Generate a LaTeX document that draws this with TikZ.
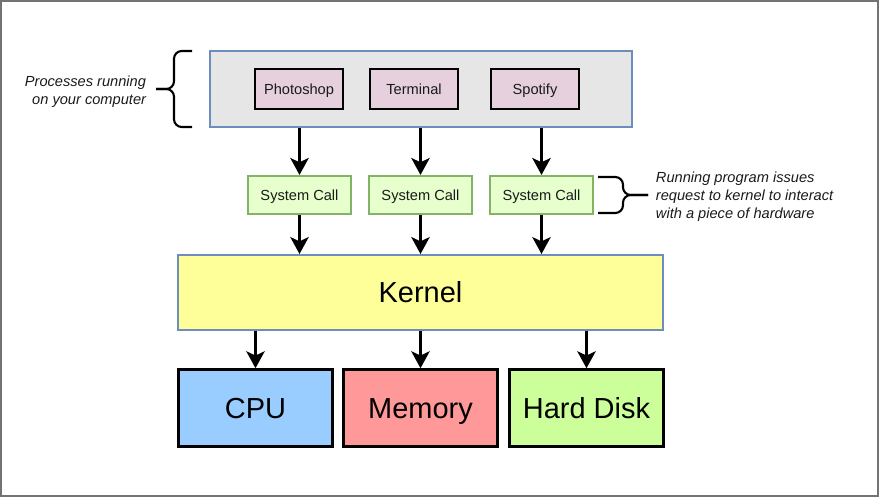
\documentclass[tikz,border=0pt]{standalone}
\usepackage{fontspec}
\setmainfont{Liberation Sans}
\usepackage{tikz}
\definecolor{pgray}{HTML}{E6E6E6}
\definecolor{pblue}{HTML}{6C8EBF}
\definecolor{ppink}{HTML}{E6D0DE}
\definecolor{sgreen}{HTML}{E6FFCC}
\definecolor{sgreenb}{HTML}{82B366}
\definecolor{kyellow}{HTML}{FFFF99}
\definecolor{hwblue}{HTML}{99CCFF}
\definecolor{hwred}{HTML}{FF9999}
\definecolor{hwgreen}{HTML}{CCFF99}
\definecolor{txt}{HTML}{1A1A1A}
\usetikzlibrary{arrows.meta}

\begin{document}
\begin{tikzpicture}[x=0.025cm, y=-0.025cm]
    \tikzset{
      small/.style={font=\fontsize{10.4}{12.8}\selectfont, text=txt,
        text height=7.45pt, text depth=0pt},
      big/.style={font=\fontsize{20.6}{24}\selectfont,
        text height=14.75pt, text depth=0pt},
      note/.style={font=\fontsize{10.4}{12.8}\selectfont\itshape, text=txt},
      proc/.style={small, draw, fill=ppink, line width=1.8pt,
        minimum width=2.2cm, minimum height=1cm},
      sysc/.style={small, draw=sgreenb, fill=sgreen, line width=1.5pt,
        minimum width=2.575cm, minimum height=0.95cm},
      hw/.style={big, draw, line width=1.8pt,
        minimum width=3.85cm, minimum height=1.925cm},
      arr/.style={draw=black, line width=2.1pt,
        -{Stealth[length=12pt, width=13pt, inset=3pt]}},
      brace/.style={line width=1.5pt, rounded corners=5.5pt}}
    \useasboundingbox (0, 0) rectangle (880, 498);
    \draw[black!55, line width=1pt] (1, 1) rectangle (878, 496);
    % processes
    \node at (421, 89) [draw=pblue, fill=pgray, line width=1.4pt,
      minimum width=10.55cm, minimum height=1.9cm] (procs) {};
    \node at (299, 89) [proc] (ps) {Photoshop};
    \node at (414, 89) [proc] (term) {Terminal};
    \node at (535, 89) [proc] (spot) {Spotify};
    % system calls
    \node at (299.5, 195) [sysc] (sc1) {System Call};
    \node at (420.5, 195) [sysc] (sc2) {System Call};
    \node at (541.5, 195) [sysc] (sc3) {System Call};
    % kernel
    \node at (420.5, 292.5) [big, draw=pblue, fill=kyellow, line width=1.4pt,
      minimum width=12.125cm, minimum height=1.875cm] (kern) {Kernel};
    % hardware
    \node at (255.5, 408) [hw, fill=hwblue] (cpu) {CPU};
    \node at (420.5, 408) [hw, fill=hwred] (mem) {Memory};
    \node at (586.5, 408) [hw, fill=hwgreen] (disk) {Hard Disk};
    \draw[arr] (sc1 |- procs.south) -- (sc1.north);
    \draw[arr] (sc2 |- procs.south) -- (sc2.north);
    \draw[arr] (sc3 |- procs.south) -- (sc3.north);
    \draw[arr] (sc1.south) -- (sc1 |- kern.north);
    \draw[arr] (sc2.south) -- (sc2 |- kern.north);
    \draw[arr] (sc3.south) -- (sc3 |- kern.north);
    \draw[arr] (cpu |- kern.south) -- (cpu.north);
    \draw[arr] (mem |- kern.south) -- (mem.north);
    \draw[arr] (disk |- kern.south) -- (disk.north);
    % notes
    \draw[brace] (192, 51) -| (174, 89) -- (156, 89);
    \draw[brace] (192, 127) -| (174, 89) -- (156, 89);
    \node at (151, 91.5) [note, anchor=east, align=right] (pnote)
      {Processes running\\on your computer};
    \draw[brace] (598, 177) -| (623, 195) -- (648, 195);
    \draw[brace] (598, 213) -| (623, 195) -- (648, 195);
    \node at (651, 197) [note, anchor=west, align=left] (snote)
      {Running program issues\\request to kernel to interact\\with a piece of hardware};
\end{tikzpicture}
\end{document}
